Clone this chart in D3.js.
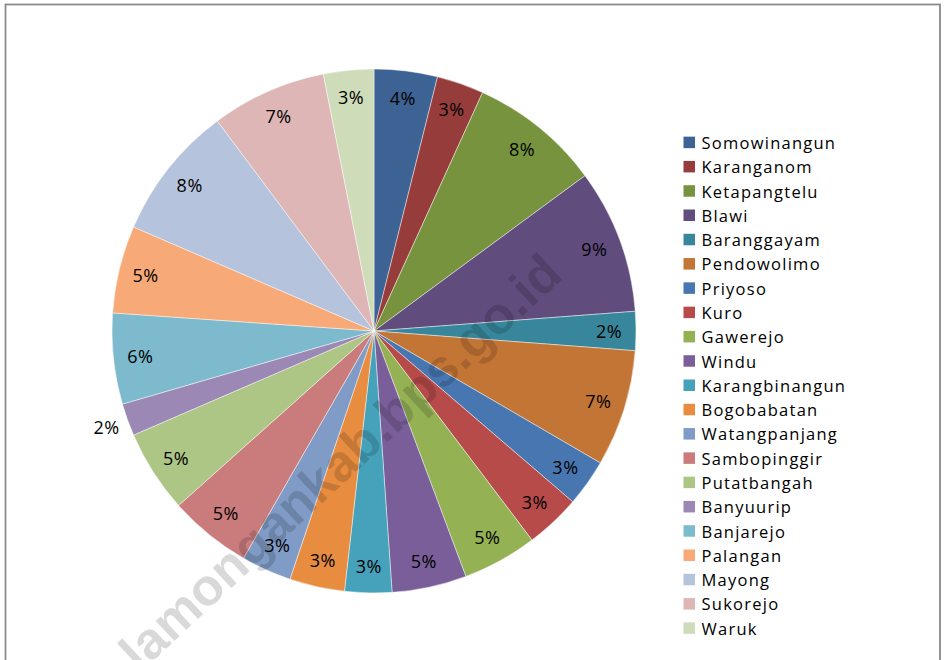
<!DOCTYPE html>
<html>
<head>
<meta charset="utf-8">
<script src="https://cdn.jsdelivr.net/npm/d3@7"></script>
<style>
  html, body { margin: 0; padding: 0; background: #fff; }
  svg { display: block; }
</style>
</head>
<body>
<svg id="chart" width="945" height="660"></svg>
<script>
// ---- data ----
const categories = ["Somowinangun","Karanganom","Ketapangtelu","Blawi","Baranggayam","Pendowolimo","Priyoso","Kuro","Gawerejo","Windu","Karangbinangun","Bogobabatan","Watangpanjang","Sambopinggir","Putatbangah","Banyuurip","Banjarejo","Palangan","Mayong","Sukorejo","Waruk"];
const values = [3.9, 2.9, 8.1, 8.9, 2.4, 7.2, 2.9, 3.4, 4.6, 4.6, 2.9, 3.4, 3.1, 5.1, 5.1, 2.0, 5.6, 5.4, 8.3, 7.1, 3.1];
const colors = ["#3C6394","#963C3B","#77933D","#614C7E","#38869B","#C37535","#4776B0","#B64B49","#94B154","#7A5E99","#46A2BA","#E88C40","#7F9BC6","#CA7C7C","#AEC685","#9C88B4","#7DBACE","#F7AA78","#B6C3DD","#DEB6B6","#CFDCBA"];
const watermark = "lamongankab.bps.go.id";

const svg = d3.select("#chart");

// frame
svg.append("rect").attr("x", 5.5).attr("y", 4.5).attr("width", 934.5).attr("height", 700)
  .attr("fill", "#fff").attr("stroke", "#8a8a8a").attr("stroke-width", 1.8);

const cx = 374, cy = 331, R = 262;
const total = d3.sum(values);
const data = categories.map((c, i) => ({ name: c, value: values[i], color: colors[i] }));

const pie = d3.pie().value(d => d.value).sort(null);
const arcs = pie(data);
const arc = d3.arc().innerRadius(0).outerRadius(R);

const g = svg.append("g").attr("transform", `translate(${cx},${cy})`);
g.selectAll("path.slice").data(arcs).enter().append("path")
  .attr("class", "slice")
  .attr("d", arc)
  .attr("fill", d => d.data.color)
  .attr("stroke", "#ffffff")
  .attr("stroke-opacity", 0.6)
  .attr("stroke-width", 0.75);

// labels
const labelFont = "'Open Sans', 'DejaVu Sans', sans-serif";
g.selectAll("text.lbl").data(arcs).enter().append("text")
  .attr("class", "lbl")
  .attr("transform", d => {
    const a = (d.startAngle + d.endAngle) / 2;
    const share = d.data.value / total;
    const dist = share < 0.022 ? R * 1.085 : R * 0.897;
    return `translate(${Math.sin(a) * dist},${-Math.cos(a) * dist})`;
  })
  .attr("text-anchor", "middle")
  .attr("dominant-baseline", "central")
  .attr("font-family", labelFont)
  .attr("font-size", 18)
  .attr("letter-spacing", 0.5)
  .attr("fill", "#000")
  .text(d => Math.round(d.data.value / total * 100) + "%");

// watermark
svg.append("text")
  .attr("transform", "translate(340,462) rotate(-43)")
  .attr("text-anchor", "middle")
  .attr("dominant-baseline", "central")
  .attr("font-family", "'Liberation Sans', Arial, sans-serif")
  .attr("font-weight", "bold")
  .attr("font-size", 52)
  .attr("fill", "#000")
  .attr("fill-opacity", 0.15)
  .text(watermark);

// legend
const legendY = d3.scaleBand().domain(categories).range([130.3, 640.3]).paddingInner(0).paddingOuter(0);
const lg = svg.append("g");
const item = lg.selectAll("g.item").data(data).enter().append("g")
  .attr("class", "item")
  .attr("transform", d => `translate(0,${legendY(d.name) + legendY.bandwidth() / 2})`);
item.append("rect").attr("x", 683.5).attr("y", -5.8).attr("width", 11.5).attr("height", 11.5)
  .attr("fill", d => d.color);
item.append("text").attr("x", 701.5).attr("y", 0)
  .attr("dominant-baseline", "central")
  .attr("font-family", labelFont)
  .attr("font-size", 16.5)
  .attr("letter-spacing", 1.25)
  .attr("fill", "#000")
  .text(d => d.name);
</script>
</body>
</html>
